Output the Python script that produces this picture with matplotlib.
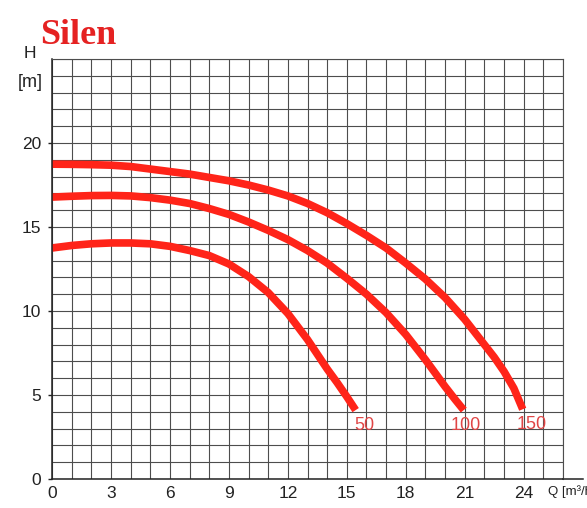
import matplotlib.pyplot as plt

# pump curves (Q in m3/h, H in m)
q_50 = [0, 1, 2, 3, 4, 5, 6, 7, 8, 9, 10, 11, 12, 13, 14, 14.5, 15, 15.45]
h_50 = [13.75, 13.9, 14.0, 14.05, 14.05, 14.0, 13.85, 13.6, 13.3, 12.8, 12.05,
        11.1, 9.85, 8.3, 6.55, 5.75, 4.9, 4.1]

q_100 = [0, 1, 2, 3, 4, 5, 6, 7, 8, 9, 10, 11, 12, 13, 14, 15, 16, 17, 18, 19,
         20, 20.5, 20.95]
h_100 = [16.78, 16.83, 16.87, 16.88, 16.85, 16.75, 16.6, 16.4, 16.1, 15.75, 15.3,
         14.8, 14.25, 13.6, 12.85, 11.95, 11.0, 9.9, 8.6, 7.1, 5.5, 4.75, 4.1]

q_150 = [0, 1, 2, 3, 4, 5, 6, 7, 8, 9, 10, 11, 12, 13, 14, 15, 16, 17, 18, 19,
         20, 21, 22, 22.5, 23, 23.5, 23.95]
h_150 = [18.74, 18.73, 18.71, 18.68, 18.6, 18.45, 18.3, 18.15, 17.95, 17.75, 17.5,
         17.2, 16.85, 16.4, 15.85, 15.2, 14.5, 13.75, 12.85, 11.9, 10.8, 9.5, 8.0,
         7.25, 6.4, 5.4, 4.15]

curve_names = ["50", "100", "150"]
x_labels = [0, 3, 6, 9, 12, 15, 18, 21, 24]
y_labels = [0, 5, 10, 15, 20]

font = "Liberation Sans"
txt = "#222222"

fig = plt.figure(figsize=(5.87, 5.08), dpi=100)
ax = fig.add_axes([52 / 587, 29 / 508, 511 / 587, 420 / 508])
ax.set_xlim(0, 26)
ax.set_ylim(0, 25)

# grid every 1 unit
ax.set_xticks(range(0, 27), minor=True)
ax.set_yticks(range(0, 26), minor=True)
ax.set_xticks(x_labels)
ax.set_yticks(y_labels)
ax.grid(which="both", color="#4d4d4d", linewidth=0.8)
ax.set_axisbelow(True)
ax.tick_params(which="minor", length=0)
ax.tick_params(axis="x", which="major", length=0, pad=5, labelsize=12.5, colors=txt)
ax.tick_params(axis="y", which="major", length=3, width=1, pad=5, labelsize=12.5, colors=txt)
for lab in ax.get_xticklabels() + ax.get_yticklabels():
    lab.set_family(font)
for s in ["top", "right"]:
    ax.spines[s].set_color("#4d4d4d")
    ax.spines[s].set_linewidth(0.8)
for s in ["left", "bottom"]:
    ax.spines[s].set_color(txt)
    ax.spines[s].set_linewidth(1.1)

# bottom axis runs a bit past the grid
ax.plot([26, 27], [0, 0], color=txt, linewidth=1.1, clip_on=False)

red = "#ff2419"
label_dx = [0.45, 0.1, 0.45]
curves = [(q_50, h_50), (q_100, h_100), (q_150, h_150)]
for (q, h), name, dx in zip(curves, curve_names, label_dx):
    ax.plot(q, h, color=red, linewidth=5.5, solid_capstyle="butt", solid_joinstyle="round")
    ax.text(q[-1] + dx, h[-1] - 0.9, name, color="#e04545", fontsize=13,
            family=font, ha="center", va="center")

fig.text(40 / 587, 1 - 44 / 508, "Silen", color="#e52222", fontsize=26,
         fontweight="bold", family="Liberation Serif", va="baseline", ha="left")
fig.text(30 / 587, 1 - 54 / 508, "H", fontsize=12.5, family=font,
         ha="center", va="center", color=txt)
fig.text(30 / 587, 1 - 83 / 508, "[m]", fontsize=13, family=font,
         ha="center", va="center", color=txt)
fig.text(548 / 587, 1 - 492 / 508, "Q [m³/h]", fontsize=9.5, family=font,
         ha="left", va="center", color=txt)

fig.savefig("out.png", dpi=100)
